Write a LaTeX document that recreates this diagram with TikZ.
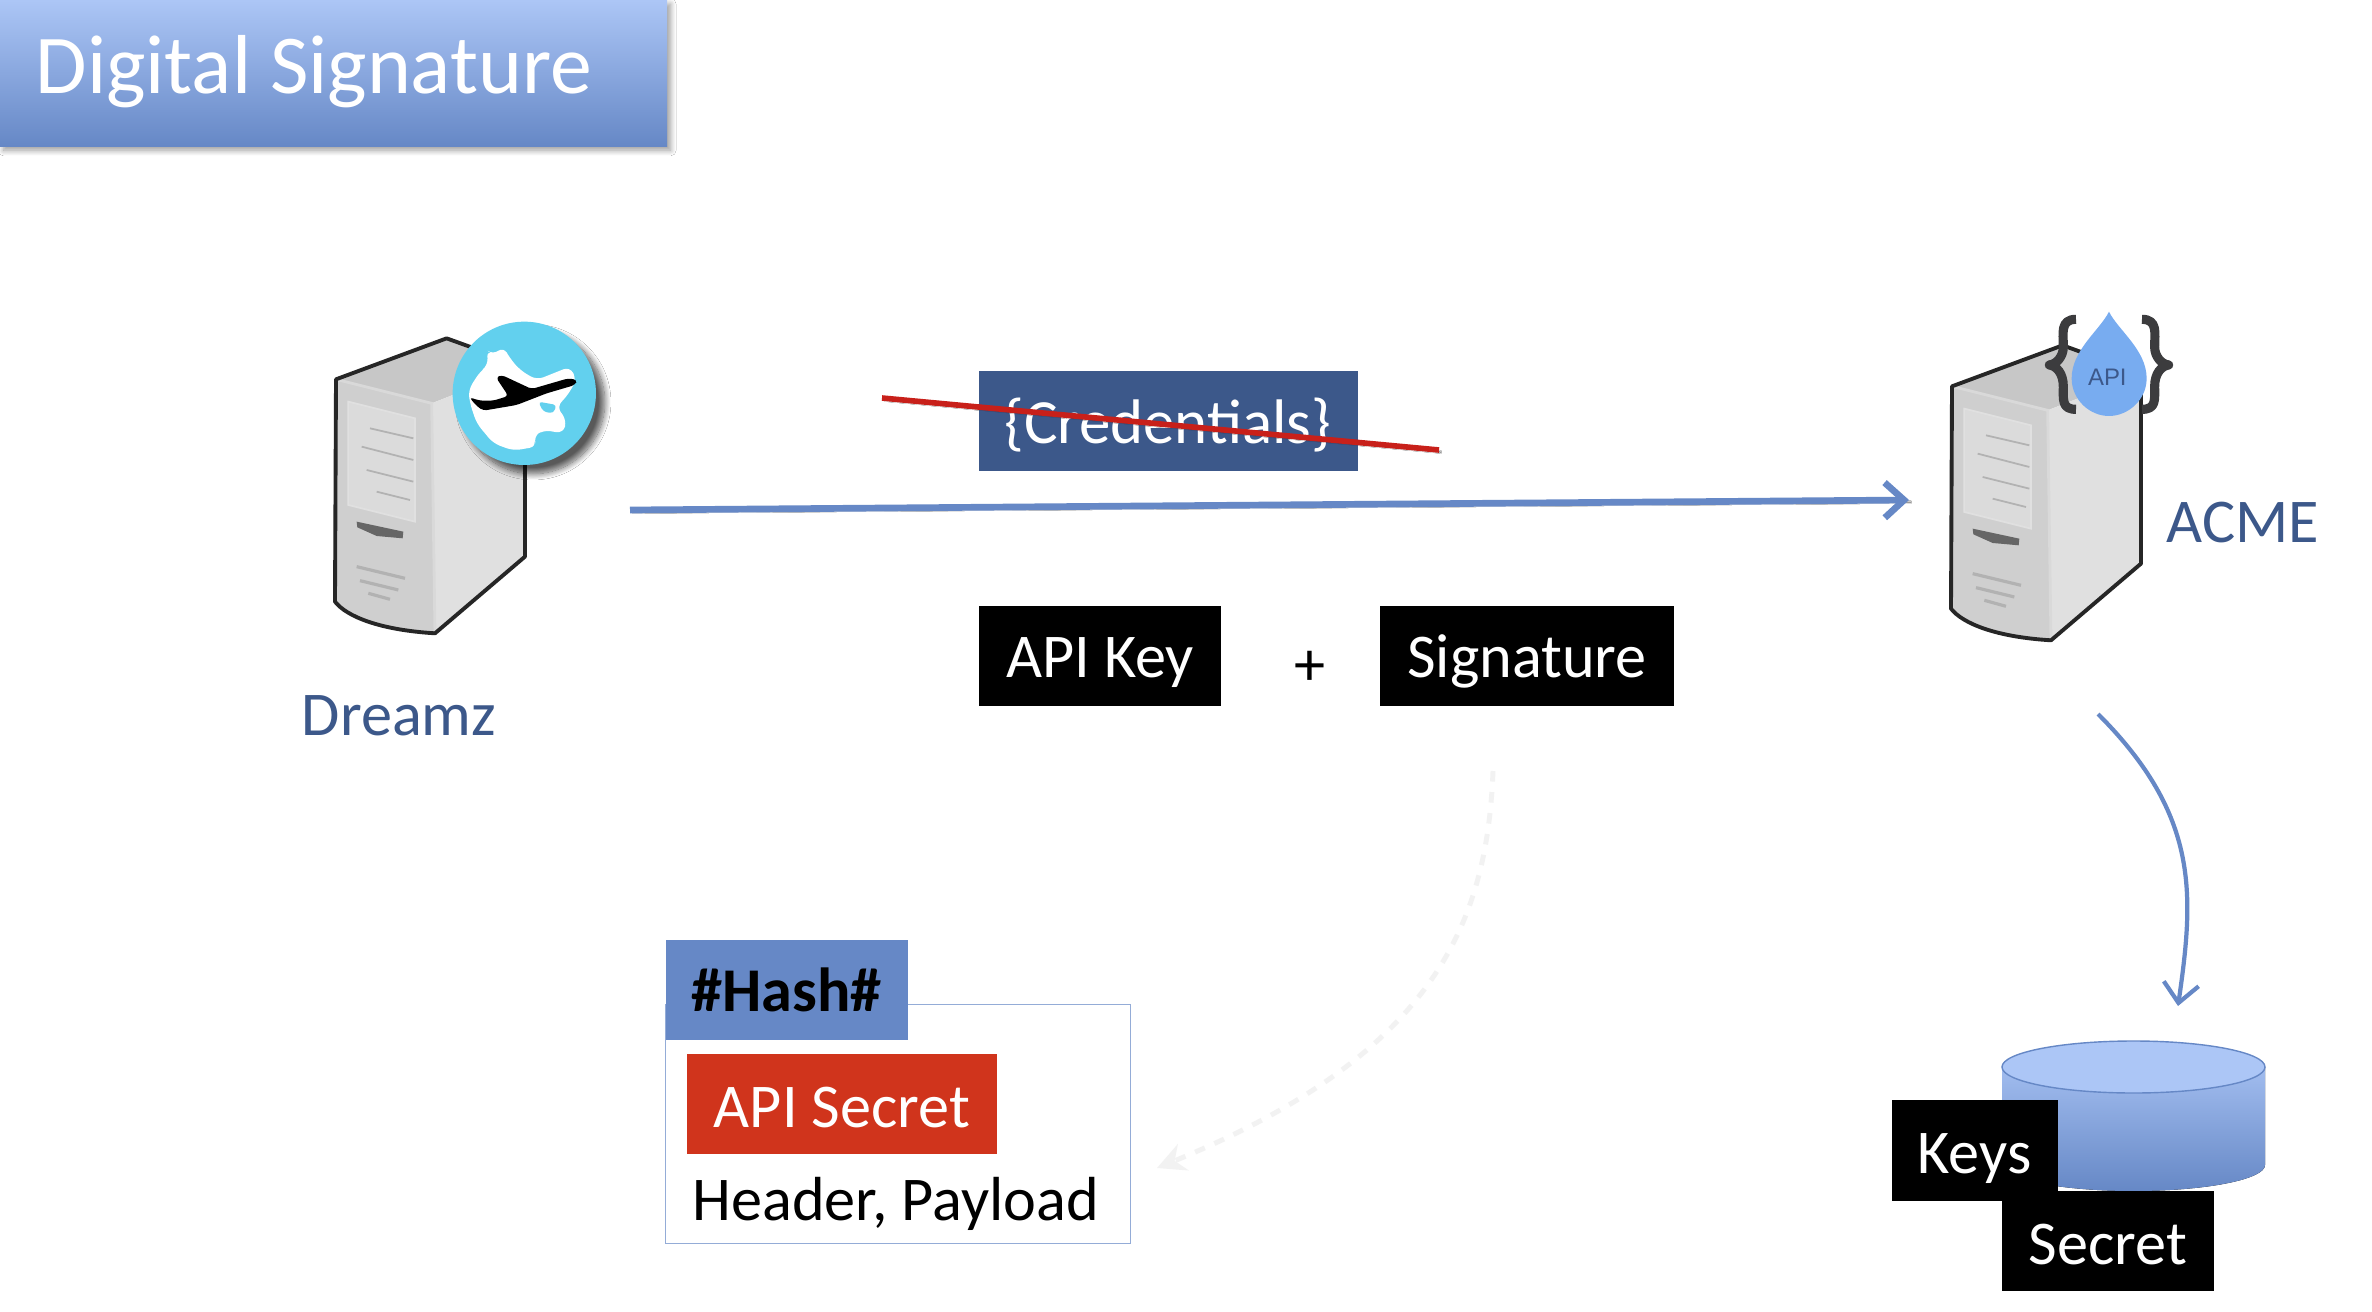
\documentclass[tikz,border=0pt]{standalone}
\usepackage{fontspec}
\setmainfont{Carlito}
\newfontfamily\dropfont{Liberation Sans}
\usepackage{tikz}
\usetikzlibrary{calc, shadows.blur, positioning, arrows.meta}
\definecolor{DeckBlue}{RGB}{102, 136, 198}
\definecolor{PaleBlue}{RGB}{172, 198, 246}
\definecolor{NavyInk}{RGB}{60, 88, 138}
\definecolor{StrikeRed}{RGB}{200, 32, 26}
\definecolor{SecretRed}{RGB}{208, 52, 28}
\definecolor{DropBlue}{RGB}{120, 172, 240}
\definecolor{GlobeBlue}{RGB}{98, 208, 238}
\definecolor{BraceGrey}{RGB}{60, 60, 62}
\tikzset{
    bodytext/.style={font=\fontsize{17.7}{20}\selectfont},
    blackbox/.style={bodytext, fill=black, text=white, inner sep=0pt, text height=12.2pt, text depth=0pt, minimum height=100*0.01cm},
    softshadow/.style={blur shadow={shadow xshift=#1, shadow yshift=-#1, shadow blur radius=0.7*#1, shadow blur steps=12, shadow opacity=65}},
    towerline/.style={black!85, line width=1.1pt, line join=round},
    ventline/.style={black!30, line width=0.5pt}
}
% one tower, drawn in units of a third of a pixel
\newcommand{\drawtower}[1]{
    \begin{scope}[shift={#1}, scale=0.3333]
        \fill[black!22] (168,268) -- (500,145) -- (735,230) -- (455,340) -- cycle;
        \fill[black!12] (455,340) -- (735,230) -- (735,800) -- (465,1030) -- cycle;
        \fill[black!19] (168,268) -- (455,340) -- (465,1030) .. controls (300,1020) and (200,980) .. (165,935) -- cycle;
        \fill[black!14, draw=white!88!black, line width=0.5pt] (205,335) -- (405,385) -- (405,695) -- (205,645) -- cycle;
        \draw[ventline] (270,415) -- (400,445);
        \draw[ventline] (245,470) -- (400,510);
        \draw[ventline] (260,540) -- (400,575);
        \draw[ventline] (290,605) -- (390,630);
        \fill[black!60] (230,695) -- (370,725) -- (368,745) -- (290,738) -- (232,712) -- cycle;
        \draw[black!30, line width=0.9pt] (230,830) -- (375,865);
        \draw[black!30, line width=0.9pt] (240,872) -- (355,900);
        \draw[black!30, line width=0.9pt] (265,910) -- (330,928);
        \draw[white!85!black, line width=0.8pt] (168,268) -- (455,340) -- (465,1030);
        \draw[towerline] (735,230) -- (735,800) -- (465,1030) .. controls (300,1020) and (200,980) .. (165,935) -- (168,268) -- (500,145) -- (735,230);
    \end{scope}
}

\begin{document}
\begin{tikzpicture}[x=0.01cm, y=-0.01cm]
    \useasboundingbox (0,0) rectangle (2372,1312);
    \fill[white] (0,0) rectangle (2372,1312);

    % Title
    \fill[top color=PaleBlue, bottom color=DeckBlue, blur shadow={shadow xshift=1pt, shadow yshift=-1.2pt, shadow blur radius=1.6pt, shadow blur steps=12, shadow opacity=40}] (0,0) rectangle (667,146);
    \node[anchor=base west, inner sep=0pt, text=white, font=\fontsize{23.8}{28}\selectfont] (title) at (35,93) {Digital Signature};

    % Dreamz
    \drawtower{(280,290)}
    \begin{scope}[shift={(280,290)}, scale=0.3333]
        \fill[GlobeBlue, softshadow=2.5pt] (733,310) circle (215);
        \fill[white, rounded corners=2pt] (565,300) -- (600,245) -- (625,225) -- (620,180) -- (640,195) -- (670,170) -- (690,205) -- (720,240) -- (770,270) -- (870,230) -- (890,270) -- (860,320) -- (830,350) -- (860,390) -- (850,430) -- (790,420) -- (760,440) -- (770,470) -- (700,482) -- (640,460) -- (590,400) -- (570,340) -- cycle;
        \fill[GlobeBlue, rounded corners=1pt] (775,335) -- (830,345) -- (820,370) -- (790,365) -- cycle;
        \fill[black, rounded corners=1pt] (568,322) -- (600,332) -- (640,332) -- (685,318) -- (648,262) -- (665,255) -- (755,297) -- (865,265) -- (892,270) -- (885,285) -- (800,310) -- (710,345) -- (610,362) -- (590,348) -- cycle;
    \end{scope}
    \node[bodytext, text=NavyInk] (dreamz) at (399,716) {Dreamz};

    % ACME
    \drawtower{(1896,297)}
    \begin{scope}[shift={(1900,290)}, scale=0.3333, line join=round]
        \draw[BraceGrey, line width=2.6pt] (528,88) .. controls (480,88) and (490,130) .. (490,170) .. controls (490,200) and (470,222) .. (448,225) .. controls (470,228) and (490,250) .. (490,290) .. controls (490,330) and (485,358) .. (528,358);
        \draw[BraceGrey, line width=2.6pt] (726,88) .. controls (774,88) and (764,130) .. (764,170) .. controls (764,200) and (784,222) .. (806,225) .. controls (784,228) and (764,250) .. (764,290) .. controls (764,330) and (769,358) .. (726,358);
        \fill[DropBlue] (627,65) .. controls (600,120) and (515,180) .. (515,265) .. controls (515,330) and (570,378) .. (627,378) .. controls (684,378) and (740,330) .. (740,265) .. controls (740,180) and (654,120) .. (627,65) -- cycle;
        \node[text=NavyInk, font=\dropfont\fontsize{6.8}{8}\selectfont] (apidrop) at (622,262) {API};
    \end{scope}
    \node[bodytext, text=NavyInk] (acme) at (2243,523) {ACME};

    % Credentials
    \node[fill=NavyInk, text=white, inner sep=0pt, text height=17pt, text depth=4pt, minimum width=379*0.01cm, minimum height=100*0.01cm, font=\fontsize{17.9}{20}\selectfont] (credentials) at (1168,421) {\{Credentials\}};
    \coordinate (strikefrom) at (882,398);
    \coordinate (striketo) at (1439,450);
    \draw[StrikeRed, line width=1.6pt, softshadow=0.6pt] (strikefrom) -- (striketo);

    % Arrow across
    \coordinate (dreamzport) at (630,510);
    \coordinate (acmeport) at (1909,500);
    \draw[DeckBlue, line width=1.9pt, -{Straight Barb[length=5.5pt, width=10pt]}, softshadow=0.6pt] (dreamzport) -- (acmeport);

    % API Key and Signature
    \node[blackbox, minimum width=242*0.01cm] (apikey) at (1100,656) {API Key};
    \node[bodytext] (plus) at (1310,668) {+};
    \node[blackbox, minimum width=294*0.01cm] (signature) at (1527,656) {Signature};

    % Hash
    \node[draw=DeckBlue!70!white, fill=white, line width=0.5pt, minimum width=465*0.01cm, minimum height=239*0.01cm, inner sep=0pt] (hashframe) at (898,1124) {};
    \node[fill=DeckBlue, inner sep=0pt, minimum width=242*0.01cm, minimum height=100*0.01cm, font=\fontsize{17.7}{20}\selectfont\bfseries] (hash) at (786.5,989.5) {\#Hash\#};
    \node[fill=SecretRed, text=white, bodytext, inner sep=0pt, text height=13.6pt, text depth=0pt, minimum width=310*0.01cm, minimum height=100*0.01cm] (apisecret) at (842,1104) {API Secret};
    \node[bodytext, anchor=base west, inner sep=0pt] (headerpayload) at (692,1220) {Header, Payload};

    % Faint arrow back
    \coordinate (faintfrom) at (1493,771);
    \coordinate (faintto) at (1157,1168);
    \draw[black!5, line width=1.4pt, dashed, -{Stealth[length=8pt, width=8pt]}] (faintfrom) .. controls (1487,925) and (1433,1055) .. (faintto);

    % Store
    \coordinate (storefrom) at (2098,714);
    \coordinate (storeto) at (2178,1006);
    \draw[DeckBlue, line width=1.2pt, -{Straight Barb[length=5.5pt, width=10pt]}] (storefrom) .. controls (2200,816) and (2194,895) .. (storeto);
    \fill[top color=PaleBlue!85!DeckBlue, bottom color=DeckBlue] (2002,1067) -- (2002,1165) arc[start angle=180, end angle=0, x radius=131.5, y radius=26] -- (2265,1067) -- cycle;
    \draw[fill=PaleBlue, draw=DeckBlue, line width=0.4pt] (2133.5,1067) ellipse (131.5 and 26);
    \node[blackbox, text height=13.3pt, minimum width=212*0.01cm] (secret) at (2108,1241) {Secret};
    \node[blackbox, text height=13.3pt, minimum width=166*0.01cm, minimum height=101*0.01cm] (keys) at (1974.5,1150) {Keys};
\end{tikzpicture}
\end{document}
